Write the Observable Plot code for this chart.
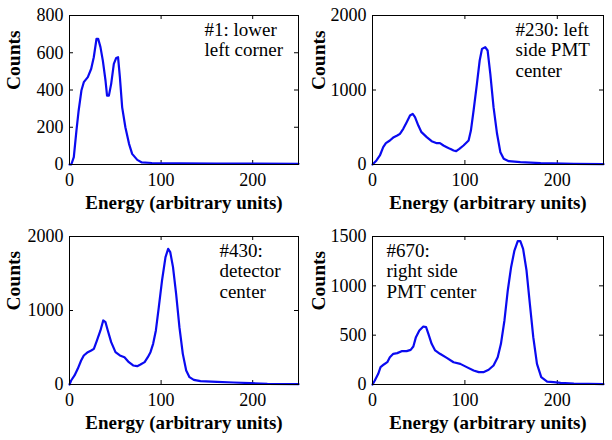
<!DOCTYPE html>
<html>
<head>
<meta charset="utf-8">
<script src="https://cdn.jsdelivr.net/npm/d3@7"></script>
<script src="https://cdn.jsdelivr.net/npm/@observablehq/plot@0.6"></script>
<style>
  html, body { margin: 0; padding: 0; background: white; }
  #chart { position: relative; width: 612px; height: 440px; background: white; overflow: hidden; font-family: 'Liberation Serif'; }
  #chart svg { position: absolute; }
</style>
</head>
<body>
<div id="chart"></div>
<script>
// ---- Data ----
const xTicks = [0, 100, 200];

// Panel #1: lower left corner
const energy1 = [0, 2, 4.7, 7.6, 10, 13, 15.6, 20, 23.7, 26.5, 29.5, 31.3, 33.8, 36.4, 39.3, 41, 43, 45.5, 48.4, 51, 53, 55, 57.5, 61, 65, 68.4, 74, 79, 90, 120, 160, 200, 250];
const counts1 = [0, 0, 40, 183, 290, 397, 442, 469, 514, 576, 675, 675, 630, 558, 451, 370, 370, 433, 540, 572, 576, 469, 307, 200, 111, 57, 25, 11, 8, 6, 5, 5, 4];
const yTicks1 = [0, 200, 400, 600, 800];

// Panel #230: left side PMT center
const energy2 = [0, 4.3, 8, 11.6, 14.5, 18.8, 23, 26.8, 29.7, 33.3, 37, 40.6, 43.5, 46, 49.6, 53, 58.7, 64, 69.6, 73, 76.8, 80.4, 84, 87.7, 90.6, 94, 98.5, 104, 106.5, 109.4, 113, 116, 118.5, 122, 124.6, 127.5, 131, 134.8, 138.4, 142, 147.5, 160, 182, 218, 250];
const counts2 = [0, 54, 121, 233, 286, 322, 367, 389, 412, 479, 568, 658, 680, 635, 523, 434, 367, 313, 286, 286, 255, 233, 210, 188, 179, 210, 255, 322, 456, 725, 1083, 1396, 1552, 1575, 1530, 1217, 770, 412, 165, 76, 45, 31, 18, 9, 5];
const yTicks2 = [0, 1000, 2000];

// Panel #430: detector center
const energy3 = [0, 1.8, 5.5, 9, 12.7, 15.6, 20, 23.7, 26.6, 30, 33.8, 36.8, 39.3, 41.8, 45.5, 50.2, 55, 60, 64.8, 69.5, 73.9, 77.5, 82, 85.5, 88.4, 91.3, 94.3, 97.5, 101, 104.8, 107.7, 110, 113, 116.4, 120, 123.7, 127.4, 131, 135.7, 143, 161, 179, 197.6, 216, 250];
const counts3 = [0, 54, 122, 212, 324, 392, 437, 459, 482, 595, 730, 865, 842, 730, 572, 437, 392, 369, 302, 257, 248, 270, 302, 369, 437, 550, 730, 1045, 1405, 1721, 1833, 1788, 1586, 1225, 775, 414, 189, 99, 63, 45, 36, 27, 18, 9, 5];
const yTicks3 = [0, 1000, 2000];

// Panel #670: right side PMT center
const energy4 = [0, 2.5, 6.2, 8.7, 12.3, 16, 18.8, 22.5, 26.8, 31.5, 37, 41.3, 44.2, 47, 50.7, 55, 58, 60.5, 64, 67.8, 73, 80.4, 87.7, 95, 102, 109.4, 115, 120, 125.7, 131, 135.5, 139, 142.8, 146.4, 150, 153.6, 157.2, 160, 163, 166.7, 170.3, 174, 178, 182.6, 189, 196, 203.6, 218, 250];
const counts4 = [0, 40, 108, 176, 203, 226, 277, 311, 318, 338, 338, 351, 385, 480, 547, 588, 581, 513, 412, 345, 311, 270, 226, 209, 176, 142, 125, 125, 149, 193, 277, 412, 649, 953, 1189, 1358, 1453, 1453, 1375, 1155, 817, 480, 209, 74, 30, 24, 17, 10, 3];
const yTicks4 = [0, 500, 1000, 1500];

const notes = [
  "#1: lower\nleft corner",
  "#230: left\nside PMT\ncenter",
  "#430:\ndetector\ncenter",
  "#670:\nright side\nPMT center"
];
const xLabel = "Energy (arbitrary units)";
const yLabel = "Counts";

// ---- Layout ----
const panels = [
  {E: energy1, C: counts1, yMax: 800, yTicks: yTicks1, note: notes[0], left: 0, top: 0, ml: 69, mr: 8, mt: 15, mb: 56, ndx: 135, ndy: 6},
  {E: energy2, C: counts2, yMax: 2000, yTicks: yTicks2, note: notes[1], left: 306, top: 0, ml: 66, mr: 9, mt: 15, mb: 56, ndx: 143, ndy: 6},
  {E: energy3, C: counts3, yMax: 2000, yTicks: yTicks3, note: notes[2], left: 0, top: 220, ml: 69, mr: 8, mt: 16, mb: 56, ndx: 150, ndy: 6},
  {E: energy4, C: counts4, yMax: 1500, yTicks: yTicks4, note: notes[3], left: 306, top: 220, ml: 66, mr: 9, mt: 16, mb: 56, ndx: 14, ndy: 6}
];

const W = 306, H = 220, tick = 4;
const FONT = "Liberation Serif";
const chart = document.getElementById("chart");

for (const p of panels) {
  const pw = W - p.ml - p.mr;
  const ph = H - p.mt - p.mb;
  const svg = Plot.plot({
    width: W,
    height: H,
    marginLeft: p.ml,
    marginRight: p.mr,
    marginTop: p.mt,
    marginBottom: p.mb,
    style: {fontFamily: FONT, fontSize: "18px", color: "black", background: "white"},
    x: {domain: [0, 250]},
    y: {domain: [0, p.yMax]},
    marks: [
      Plot.axisX(xTicks, {tickSize: 0, tickPadding: 9, label: null, fontSize: 18, fontFamily: FONT, tickFormat: d => String(d)}),
      Plot.axisY(p.yTicks, {tickSize: 0, tickPadding: 6, label: null, fontSize: 18, fontFamily: FONT, tickFormat: d => String(d)}),
      Plot.ruleX(xTicks, {x: d => d, insetTop: ph - tick, stroke: "black", strokeWidth: 1}),
      Plot.ruleX(xTicks, {x: d => d, insetBottom: ph - tick, stroke: "black", strokeWidth: 1}),
      Plot.ruleY(p.yTicks, {y: d => d, insetRight: pw - tick, stroke: "black", strokeWidth: 1}),
      Plot.ruleY(p.yTicks, {y: d => d, insetLeft: pw - tick, stroke: "black", strokeWidth: 1}),
      Plot.line(p.C, {x: p.E, y: p.C, stroke: "#0a0af0", strokeWidth: 2.2, strokeLinejoin: "round"}),
      Plot.frame({stroke: "black", strokeWidth: 1}),
      Plot.text([p.note], {text: d => d, frameAnchor: "top-left", dx: p.ndx, dy: p.ndy, textAnchor: "start", lineAnchor: "top", lineHeight: 1.07, fontSize: 19, fontFamily: FONT, fill: "black"}),
      Plot.text([xLabel], {text: d => d, frameAnchor: "bottom", dy: 38, lineAnchor: "middle", fontSize: 19, fontWeight: "bold", fontFamily: FONT, fill: "black"}),
      Plot.text([yLabel], {text: d => d, frameAnchor: "left", dx: p.ml === 69 ? -56 : -54, rotate: -90, lineAnchor: "middle", fontSize: 19.5, fontWeight: "bold", fontFamily: FONT, fill: "black"})
    ]
  });
  svg.style.left = p.left + "px";
  svg.style.top = p.top + "px";
  chart.appendChild(svg);
}
</script>
</body>
</html>
